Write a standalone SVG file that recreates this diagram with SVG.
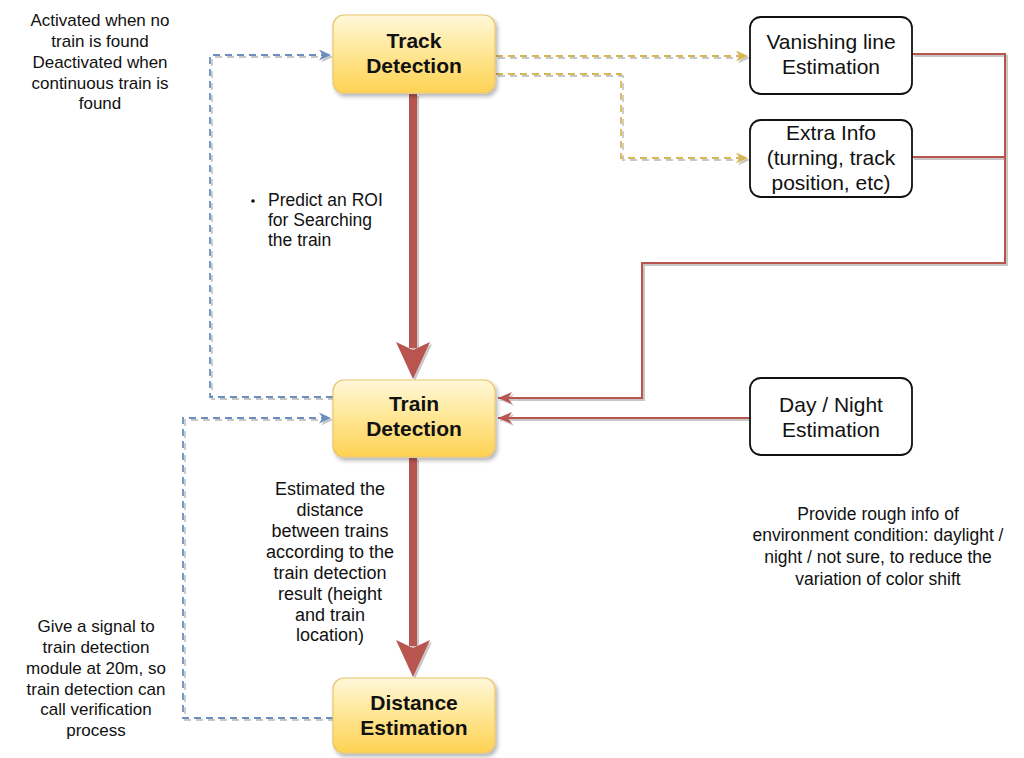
<svg xmlns="http://www.w3.org/2000/svg" width="1024" height="758" viewBox="0 0 1024 758">
  <defs>
    <linearGradient id="yellowFill" x1="0" y1="0" x2="0" y2="1">
      <stop offset="0" stop-color="#fff7da"/>
      <stop offset="0.4" stop-color="#ffeaa0"/>
      <stop offset="1" stop-color="#fed253"/>
    </linearGradient>
    <filter id="shadow" x="-10%" y="-10%" width="130%" height="140%">
      <feGaussianBlur in="SourceAlpha" stdDeviation="2"/>
      <feOffset dx="2" dy="3" result="b"/>
      <feComponentTransfer><feFuncA type="linear" slope="0.3"/></feComponentTransfer>
      <feMerge><feMergeNode/><feMergeNode in="SourceGraphic"/></feMerge>
    </filter>
    <filter id="lineShadow" x="-5%" y="-5%" width="110%" height="110%">
      <feOffset in="SourceAlpha" dx="1.5" dy="1.5"/>
      <feGaussianBlur stdDeviation="0.6"/>
      <feComponentTransfer><feFuncA type="linear" slope="0.22"/></feComponentTransfer>
      <feMerge><feMergeNode/><feMergeNode in="SourceGraphic"/></feMerge>
    </filter>
    <marker id="arrowBlue" markerWidth="14" markerHeight="14" refX="12" refY="7" orient="auto" markerUnits="userSpaceOnUse">
      <path d="M0,1.5 L12,7 L0,12.5 L3.5,7 Z" fill="#6c8ebf"/>
    </marker>
    <marker id="arrowYellow" markerWidth="14" markerHeight="14" refX="12" refY="7" orient="auto" markerUnits="userSpaceOnUse">
      <path d="M0,1.5 L12,7 L0,12.5 L3.5,7 Z" fill="#d6b656"/>
    </marker>
    <marker id="arrowRed" markerWidth="16" markerHeight="16" refX="14" refY="8" orient="auto" markerUnits="userSpaceOnUse">
      <path d="M0,2 L14,8 L0,14 L4,8 Z" fill="#b85450"/>
    </marker>
  </defs>
  <style>
    .yellow { fill: url(#yellowFill); stroke: #e9c56c; stroke-width: 1.2; filter: url(#shadow); }
    .plain { fill: #ffffff; stroke: #111111; stroke-width: 1.8; }
    .title { font-family: "Liberation Sans", Arial, sans-serif; font-weight: bold; font-size: 21px; fill: #111; text-anchor: middle; }
    .label { font-family: "Liberation Sans", Arial, sans-serif; font-size: 21px; fill: #111; text-anchor: middle; }
    .note { font-family: "Liberation Sans", Arial, sans-serif; font-size: 17px; fill: #111; text-anchor: middle; }
    .blue { fill: none; stroke: #6c8ebf; stroke-width: 1.8; stroke-dasharray: 7 5; }
    .gold { fill: none; stroke: #d6b656; stroke-width: 1.8; stroke-dasharray: 7 5; }
    .thin { fill: none; stroke: #b85450; stroke-width: 2; }
    .thick { fill: none; stroke: #b85450; stroke-width: 8; }
  </style>

  <!-- connectors -->
  <g id="connectors" filter="url(#lineShadow)">
    <!-- activation loop back to track detection -->
    <path class="blue" d="M333,397 H210 V55 H331" marker-end="url(#arrowBlue)"/>
    <!-- verification signal back to train detection -->
    <path class="blue" d="M333,718 H183 V418 H331" marker-end="url(#arrowBlue)"/>
    <!-- track detection outputs -->
    <path class="gold" d="M496,56 H748" marker-end="url(#arrowYellow)"/>
    <path class="gold" d="M496,74 H621 V158 H748" marker-end="url(#arrowYellow)"/>
    <!-- info back into train detection -->
    <path class="thin" d="M912,54 H1005 V263 H642 V398 H498" marker-end="url(#arrowRed)"/>
    <path class="thin" d="M912,157 H1005"/>
    <path class="thin" d="M750,418 H498" marker-end="url(#arrowRed)"/>
    <!-- main flow -->
    <path class="thick" d="M413,94 V348"/>
    <polygon points="396,342 413,350 430,342 413,379" fill="#b85450"/>
    <path class="thick" d="M413,458 V646"/>
    <polygon points="396,640 413,648 430,640 413,677" fill="#b85450"/>
  </g>

  <g id="track-detection">
    <rect class="yellow" x="333" y="15" width="162" height="78" rx="11"/>
    <text class="title" x="414" y="48">Track</text>
    <text class="title" x="414" y="73">Detection</text>
  </g>

  <g id="train-detection">
    <rect class="yellow" x="333" y="380" width="162" height="77" rx="11"/>
    <text class="title" x="414" y="411">Train</text>
    <text class="title" x="414" y="436">Detection</text>
  </g>

  <g id="distance-estimation">
    <rect class="yellow" x="333" y="678" width="162" height="75" rx="11"/>
    <text class="title" x="414" y="710">Distance</text>
    <text class="title" x="414" y="735">Estimation</text>
  </g>

  <g id="vanishing-line">
    <rect class="plain" x="750" y="17" width="162" height="77" rx="11"/>
    <text class="label" x="831" y="49">Vanishing line</text>
    <text class="label" x="831" y="74">Estimation</text>
  </g>

  <g id="extra-info">
    <rect class="plain" x="750" y="120" width="162" height="77" rx="11"/>
    <text class="label" x="831" y="140">Extra Info</text>
    <text class="label" x="831" y="165">(turning, track</text>
    <text class="label" x="831" y="190">position, etc)</text>
  </g>

  <g id="day-night">
    <rect class="plain" x="750" y="378" width="162" height="77" rx="11"/>
    <text class="label" x="831" y="412">Day / Night</text>
    <text class="label" x="831" y="437">Estimation</text>
  </g>

  <!-- annotations -->
  <g id="note-activation" class="note">
    <text x="100" y="26">Activated when no</text>
    <text x="100" y="47">train is found</text>
    <text x="100" y="68">Deactivated when</text>
    <text x="100" y="89">continuous train is</text>
    <text x="100" y="109">found</text>
  </g>

  <g id="note-roi">
    <circle cx="253" cy="201" r="1.8" fill="#111"/>
    <text class="note" style="text-anchor:start; font-size:17.5px" x="268" y="206">Predict an ROI</text>
    <text class="note" style="text-anchor:start; font-size:17.5px" x="268" y="226">for Searching</text>
    <text class="note" style="text-anchor:start; font-size:17.5px" x="268" y="246">the train</text>
  </g>

  <g id="note-distance" class="note" style="font-size:18px">
    <text x="330" y="495">Estimated the</text>
    <text x="330" y="516">distance</text>
    <text x="330" y="537">between trains</text>
    <text x="330" y="558">according to the</text>
    <text x="330" y="579">train detection</text>
    <text x="330" y="600">result (height</text>
    <text x="330" y="621">and train</text>
    <text x="330" y="641">location)</text>
  </g>

  <g id="note-environment" class="note" style="font-size:17.5px">
    <text x="878" y="520">Provide rough info of</text>
    <text x="878" y="541">environment condition: daylight /</text>
    <text x="878" y="563">night / not sure, to reduce the</text>
    <text x="878" y="585">variation of color shift</text>
  </g>

  <g id="note-signal" class="note">
    <text x="96" y="632">Give a signal to</text>
    <text x="96" y="653">train detection</text>
    <text x="96" y="674">module at 20m, so</text>
    <text x="96" y="695">train detection can</text>
    <text x="96" y="715">call verification</text>
    <text x="96" y="736">process</text>
  </g>
</svg>
